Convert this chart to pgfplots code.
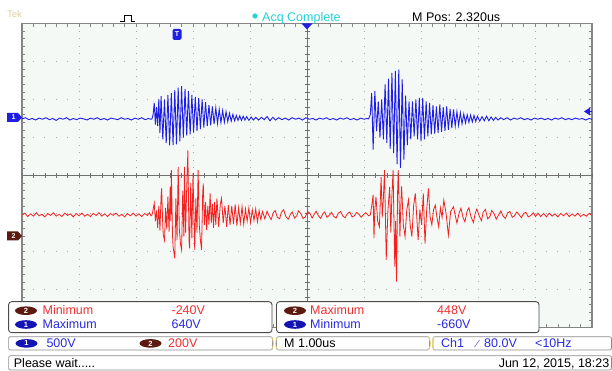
\documentclass[border=0pt]{standalone}
\usepackage{pgfplots}
\pgfplotsset{compat=1.18}
\usepackage{fontspec}
\setmainfont{Liberation Sans}
\definecolor{scrbg}{HTML}{F4F9F6}
\definecolor{gridc}{HTML}{A8A8A8}
\definecolor{borderc}{HTML}{858585}
\definecolor{centc}{HTML}{707070}
\definecolor{ch1}{HTML}{1E1EE6}
\definecolor{ch2}{HTML}{F52020}
\definecolor{ch1txt}{HTML}{2A2AE0}
\definecolor{ch2txt}{HTML}{F03030}
\definecolor{maroonb}{HTML}{5C1A10}
\definecolor{badgeblue}{HTML}{1414B4}
\definecolor{acq}{HTML}{22D3D8}
\definecolor{tek}{HTML}{D8D0A0}
\definecolor{brk}{HTML}{E8D070}

\begin{document}
\begin{tikzpicture}[x=1pt,y=1pt,font=\fontsize{12.5}{14}\selectfont]
\fill[white] (0,0) rectangle (612,371);
\begin{axis}[at={(22pt,43.5pt)}, anchor=south west, scale only axis,
  width=570pt, height=304pt, xmin=-5, xmax=5, ymin=-4, ymax=4,
  axis background/.style={fill=scrbg},
  axis line style={borderc, line width=1.1pt},
  xtick={-5,...,5}, ytick={-4,...,4}, minor x tick num=4, minor y tick num=4,
  xticklabels={}, yticklabels={}, tick align=inside,
  major tick length=3pt, minor tick length=3pt,
  tick style={borderc, line width=0.6pt},
  grid=major,
  major x grid style={gridc, line width=1pt, dash pattern=on 1pt off 6.6pt, dash phase=0.5pt},
  major y grid style={gridc, line width=1pt, dash pattern=on 1pt off 10.4pt, dash phase=0.5pt}]
\end{axis}
\begin{axis}[at={(22pt,43.5pt)}, anchor=south west, scale only axis,
  width=570pt, height=304pt, xmin=-5, xmax=5, ymin=-4, ymax=4,
  axis lines=middle,
  axis line style={-, centc, line width=0.9pt},
  every inner x axis line/.append style={-},
  every inner y axis line/.append style={-},
  xtick={-5,...,5}, ytick={-4,...,4}, minor x tick num=4, minor y tick num=4,
  xticklabels={}, yticklabels={}, tick align=center,
  major tick length=5pt, minor tick length=5pt,
  tick style={centc, line width=0.6pt}, clip=true]
% Channel 2 (red)
\addplot[ch2, line width=0.8pt] coordinates {
(-5.00,-1.04)(-4.95,-0.99)(-4.90,-1.08)(-4.85,-1.01)(-4.80,-1.07)(-4.75,-0.98)(-4.70,-1.06)(-4.65,-1.02)(-4.60,-1.09)(-4.55,-1.00)
(-4.50,-1.05)(-4.45,-0.98)(-4.40,-1.07)(-4.35,-1.02)(-4.30,-1.08)(-4.25,-0.99)(-4.20,-1.05)(-4.15,-1.01)(-4.10,-1.09)(-4.05,-1.00)
(-4.00,-1.06)(-3.95,-0.99)(-3.90,-1.07)(-3.85,-1.02)(-3.80,-1.08)(-3.75,-1.00)(-3.70,-1.05)(-3.65,-0.98)(-3.60,-1.07)(-3.55,-1.01)
(-3.50,-1.08)(-3.45,-1.00)(-3.40,-1.05)(-3.35,-0.99)(-3.30,-1.07)(-3.25,-1.02)(-3.20,-1.09)(-3.15,-1.00)(-3.10,-1.06)(-3.05,-0.99)
(-3.00,-1.07)(-2.95,-1.01)(-2.90,-1.08)(-2.85,-1.00)(-2.80,-1.05)(-2.76,-0.98)(-2.74,-1.06)
(-2.72,-1.04)(-2.70,-0.90)(-2.68,-0.73)(-2.66,-1.20)(-2.64,-0.92)(-2.62,-1.38)(-2.60,-0.80)(-2.58,-1.45)(-2.56,-0.55)(-2.55,-0.34)
(-2.53,-1.35)(-2.52,-1.57)(-2.50,-1.70)(-2.48,-0.85)(-2.46,-1.42)(-2.44,-0.55)(-2.42,-1.48)(-2.40,-0.29)(-2.39,-1.20)(-2.38,0.14)
(-2.36,-1.55)(-2.35,-1.87)(-2.32,-2.18)(-2.30,-0.60)(-2.28,-1.70)(-2.26,0.23)(-2.24,-1.40)(-2.22,-1.80)(-2.20,-1.96)(-2.18,-0.40)
(-2.16,-1.60)(-2.15,0.23)(-2.13,-1.50)(-2.11,-0.30)(-2.09,0.66)(-2.07,-1.70)(-2.06,-1.92)(-2.04,-0.20)(-2.02,-1.65)(-2.00,0.06)
(-1.98,-1.30)(-1.97,-1.96)(-1.95,-0.60)(-1.93,-1.50)(-1.91,0.14)(-1.89,-1.30)(-1.87,-1.70)(-1.85,-1.96)(-1.83,-0.45)(-1.82,-0.21)
(-1.80,-1.30)(-1.78,-0.70)(-1.76,-1.44)(-1.74,-0.80)(-1.72,-1.30)(-1.70,-0.47)(-1.68,-1.25)(-1.66,-0.75)(-1.64,-1.38)(-1.62,-0.70)
(-1.60,-1.30)(-1.58,-0.60)(-1.55,-1.35)(-1.52,-0.75)(-1.50,-0.60)(-1.47,-1.25)(-1.44,-0.80)(-1.41,-1.35)(-1.38,-0.78)(-1.35,-1.30)
(-1.32,-0.80)(-1.29,-1.28)(-1.26,-0.76)(-1.23,-1.32)(-1.20,-0.85)(-1.17,-1.25)(-1.14,-0.82)(-1.11,-1.28)(-1.08,-0.88)(-1.05,-1.20)
(-1.02,-0.85)(-0.99,-1.24)(-0.96,-0.90)(-0.93,-1.18)(-0.90,-0.88)(-0.87,-1.22)(-0.84,-0.92)(-0.81,-1.16)(-0.78,-0.95)(-0.74,-1.14)
(-0.70,-0.94)(-0.67,-1.05)(-0.63,-1.16)(-0.59,-0.98)(-0.56,-0.92)(-0.52,-1.10)(-0.48,-1.14)(-0.45,-0.97)(-0.41,-0.90)(-0.37,-1.08)
(-0.33,-1.15)(-0.29,-1.02)(-0.26,-0.96)(-0.22,-1.12)(-0.18,-1.06)(-0.15,-0.93)(-0.11,-1.00)(-0.07,-1.13)(-0.03,-1.09)(0.01,-0.95)
(0.05,-0.99)(0.09,-1.12)(0.12,-1.04)(0.16,-0.94)(0.20,-1.06)(0.24,-1.13)(0.28,-1.00)(0.31,-0.96)(0.35,-1.10)(0.39,-1.05)
(0.43,-0.97)(0.47,-1.08)(0.51,-1.12)(0.55,-0.99)(0.59,-0.95)(0.63,-1.07)(0.67,-1.11)(0.71,-1.00)(0.75,-0.96)(0.79,-1.09)
(0.83,-1.06)(0.87,-0.97)(0.91,-1.02)(0.95,-1.10)(0.99,-1.03)(1.03,-0.98)(1.08,-1.06)
(1.11,-1.04)(1.135,-0.80)(1.16,-0.51)(1.175,-1.65)(1.19,-0.90)(1.21,-0.56)(1.24,-1.20)(1.27,-1.35)(1.30,-0.04)(1.32,-1.10)
(1.34,-0.60)(1.36,0.14)(1.39,-2.22)(1.42,-0.90)(1.45,-0.30)(1.47,-1.50)(1.49,-0.50)(1.51,0.14)(1.53,-1.60)(1.54,-2.40)
(1.555,-1.20)(1.57,-2.79)(1.59,-0.40)(1.60,0.14)(1.62,-0.90)(1.63,-1.61)(1.65,-0.60)(1.66,-0.29)(1.69,-1.30)(1.72,-1.61)
(1.75,-0.90)(1.78,-0.64)(1.81,-1.30)(1.84,-1.61)(1.87,-0.80)(1.90,-0.47)(1.93,-1.20)(1.95,-1.70)(1.98,-0.90)(2.01,-1.30)
(2.04,-0.47)(2.07,-1.79)(2.10,-0.90)(2.13,-0.34)(2.16,-1.10)(2.19,-1.30)(2.22,-0.90)(2.25,-0.78)(2.28,-1.10)(2.31,-1.35)
(2.34,-0.85)(2.37,-1.10)(2.40,-0.65)(2.44,-1.00)(2.48,-1.57)(2.52,-0.95)(2.57,-0.82)(2.60,-1.05)(2.63,-1.25)(2.67,-0.98)
(2.70,-0.86)(2.74,-1.12)(2.77,-1.22)(2.81,-0.93)(2.84,-0.85)(2.88,-1.10)(2.92,-1.24)(2.95,-1.00)(2.98,-0.88)(3.02,-1.06)
(3.06,-1.19)(3.09,-0.97)(3.13,-0.89)(3.17,-1.14)(3.21,-1.08)(3.24,-0.92)(3.28,-1.00)(3.32,-1.15)(3.36,-1.04)(3.40,-0.93)
(3.44,-1.07)(3.48,-1.13)(3.52,-0.98)(3.56,-0.95)(3.60,-1.10)(3.64,-1.06)(3.68,-0.96)(3.72,-1.03)(3.76,-1.11)(3.80,-1.00)
(3.84,-0.97)(3.88,-1.09)(3.93,-1.05)(3.97,-0.98)(4.01,-1.08)(4.05,-0.99)(4.10,-1.08)(4.15,-1.00)(4.20,-1.09)(4.25,-0.99)
(4.30,-1.07)(4.35,-1.01)(4.40,-1.09)(4.45,-1.00)(4.50,-1.06)(4.55,-0.99)(4.60,-1.08)(4.65,-1.01)(4.70,-1.07)(4.75,-0.99)
(4.80,-1.08)(4.85,-1.02)(4.90,-1.07)(4.95,-1.00)(5.00,-1.05)
};
% Channel 1 (blue)
\addplot[ch1, line width=0.9pt] coordinates {
(-5.00,1.49)(-4.94,1.52)(-4.88,1.47)(-4.82,1.50)(-4.76,1.46)(-4.70,1.51)(-4.64,1.48)(-4.58,1.52)(-4.52,1.47)(-4.46,1.50)
(-4.40,1.45)(-4.34,1.51)(-4.28,1.48)(-4.22,1.52)(-4.16,1.46)(-4.10,1.50)(-4.04,1.47)(-3.98,1.51)(-3.92,1.49)(-3.86,1.46)
(-3.80,1.51)(-3.74,1.48)(-3.68,1.52)(-3.62,1.47)(-3.56,1.50)(-3.50,1.46)(-3.44,1.51)(-3.38,1.49)(-3.32,1.47)(-3.26,1.52)
(-3.20,1.48)(-3.14,1.50)(-3.08,1.46)(-3.02,1.51)(-2.96,1.48)(-2.90,1.52)(-2.84,1.47)(-2.78,1.50)(-2.74,1.48)
(-2.72,1.49)(-2.70,1.60)(-2.68,1.91)(-2.66,1.34)(-2.64,1.80)(-2.62,1.30)(-2.60,2.00)(-2.58,1.12)(-2.56,2.09)(-2.53,0.95)
(-2.50,2.00)(-2.47,0.85)(-2.44,2.12)(-2.41,0.79)(-2.38,2.17)(-2.35,0.80)(-2.32,2.25)(-2.29,0.82)(-2.26,2.31)(-2.23,0.90)
(-2.20,2.35)(-2.17,1.00)(-2.14,2.28)(-2.11,1.05)(-2.08,2.22)(-2.05,1.08)(-2.02,2.12)(-1.99,1.13)(-1.96,2.07)(-1.93,1.17)
(-1.90,2.04)(-1.87,1.22)(-1.84,2.00)(-1.81,1.26)(-1.78,1.93)(-1.75,1.30)(-1.72,1.86)(-1.69,1.32)(-1.66,1.82)(-1.63,1.35)
(-1.60,1.78)(-1.57,1.37)(-1.54,1.74)(-1.51,1.39)(-1.48,1.71)(-1.45,1.40)(-1.42,1.68)(-1.39,1.42)(-1.36,1.64)(-1.33,1.43)
(-1.30,1.61)(-1.27,1.44)(-1.24,1.58)(-1.21,1.45)(-1.18,1.57)(-1.15,1.45)(-1.12,1.56)(-1.09,1.46)(-1.06,1.55)(-1.02,1.45)
(-0.98,1.54)(-0.94,1.46)(-0.90,1.53)(-0.85,1.46)(-0.80,1.53)(-0.75,1.47)
(-0.70,1.55)(-0.65,1.44)(-0.60,1.53)(-0.55,1.46)(-0.50,1.52)(-0.44,1.47)(-0.38,1.51)(-0.32,1.46)(-0.26,1.52)(-0.20,1.48)
(-0.14,1.51)(-0.08,1.46)(-0.02,1.52)(0.04,1.48)(0.10,1.50)(0.16,1.46)(0.22,1.51)(0.28,1.48)(0.34,1.52)(0.40,1.47)
(0.46,1.50)(0.52,1.46)(0.58,1.51)(0.64,1.48)(0.70,1.52)(0.76,1.47)(0.82,1.50)(0.88,1.46)(0.94,1.51)(1.00,1.48)(1.05,1.50)
(1.08,1.49)(1.11,1.60)(1.135,2.17)(1.16,0.68)(1.19,2.22)(1.22,1.17)(1.25,1.95)(1.28,1.00)(1.31,2.00)(1.34,0.95)
(1.37,2.40)(1.40,0.86)(1.43,2.55)(1.46,0.70)(1.49,2.70)(1.52,0.59)(1.55,2.75)(1.58,0.30)(1.61,2.79)(1.64,0.20)
(1.67,2.53)(1.70,0.42)(1.73,2.10)(1.76,0.80)(1.79,1.95)(1.82,0.95)(1.85,1.95)(1.88,1.03)(1.91,2.00)(1.94,0.95)
(1.97,2.04)(2.00,0.90)(2.03,2.04)(2.06,0.95)(2.09,1.95)(2.12,1.03)(2.15,1.91)(2.18,1.08)(2.21,1.85)(2.24,1.10)
(2.27,1.82)(2.30,1.12)(2.33,1.87)(2.36,1.15)(2.39,1.80)(2.42,1.17)(2.45,1.82)(2.48,1.20)(2.51,1.75)(2.54,1.25)
(2.57,1.74)(2.60,1.30)(2.63,1.68)(2.66,1.32)(2.69,1.65)(2.72,1.36)(2.75,1.62)(2.78,1.38)(2.81,1.60)(2.84,1.40)
(2.87,1.59)(2.90,1.41)(2.93,1.58)(2.96,1.42)(2.99,1.56)(3.03,1.43)(3.07,1.55)(3.11,1.44)(3.15,1.56)(3.19,1.44)
(3.23,1.54)(3.27,1.45)(3.31,1.53)(3.35,1.46)(3.40,1.52)
(3.45,1.47)(3.51,1.52)(3.57,1.46)(3.63,1.51)(3.69,1.48)(3.75,1.52)(3.81,1.47)(3.87,1.50)(3.93,1.46)(3.99,1.51)
(4.05,1.48)(4.11,1.51)(4.17,1.47)(4.23,1.50)(4.29,1.46)(4.35,1.51)(4.41,1.48)(4.47,1.52)(4.53,1.47)(4.59,1.50)
(4.65,1.47)(4.71,1.51)(4.77,1.48)(4.83,1.50)(4.89,1.46)(4.95,1.50)(5.00,1.48)
};
\end{axis}
% ---- top status line
\node[anchor=base west, inner sep=0, text=tek, font=\fontsize{9.5}{10}\selectfont] at (7,353) {Tek};
\draw[black, line width=0.6pt] (120,349.5)--(124,349.5)--(124,356)--(131,356)--(131,349.5)--(135,349.5);
\fill[acq] (255,355) circle (2.6);
\node[anchor=base west, inner sep=0, text=acq] at (262,349) {Acq Complete};
\node[anchor=base west, inner sep=0] at (412,349) {M Pos: 2.320us};
% ---- markers
\fill[ch1, rounded corners=1.5pt] (172.5,331) rectangle (181.5,342);
\node[white, inner sep=0, font=\bfseries\fontsize{7}{7}\selectfont] at (177,336.5) {T};
\fill[ch1] (301.5,347.5) -- (312.5,347.5) -- (307,341.5) -- cycle;
\fill[ch1] (7,249)--(18,249)--(22,253.5)--(18,258)--(7,258)--cycle;
\node[white, inner sep=0, font=\bfseries\fontsize{7}{7}\selectfont] at (13.5,253.5) {1};
\fill[maroonb] (7,130.5)--(18,130.5)--(22,135)--(18,139.5)--(7,139.5)--cycle;
\node[white, inner sep=0, font=\bfseries\fontsize{7}{7}\selectfont] at (13.5,135) {2};
\fill[ch1] (584,259.5)--(590,263.5)--(590,255.5)--cycle;
\draw[ch1, line width=1.2pt] (588,259.5)--(592,259.5);
% ---- measurement boxes
\draw[black!70, line width=0.9pt, fill=white, rounded corners=3pt] (8.6,38.3) rectangle (272,69.3);
\draw[black!70, line width=0.9pt, fill=white, rounded corners=3pt] (276.5,38.3) rectangle (539,69.3);
\fill[maroonb] (26,60.3) ellipse (11 and 4.3);
\node[white, inner sep=0, font=\bfseries\fontsize{7.5}{8}\selectfont] at (26,60.3) {2};
\fill[badgeblue] (26,46.5) ellipse (11 and 4.3);
\node[white, inner sep=0, font=\bfseries\fontsize{7.5}{8}\selectfont] at (26,46.5) {1};
\node[anchor=base west, inner sep=0, text=ch2txt] at (42.4,56) {Minimum};
\node[anchor=base west, inner sep=0, text=ch2txt] at (171.4,56) {-240V};
\node[anchor=base west, inner sep=0, text=ch1txt] at (42.4,42.2) {Maximum};
\node[anchor=base west, inner sep=0, text=ch1txt] at (171.4,42.2) {640V};
\fill[maroonb] (295,60.3) ellipse (11 and 4.3);
\node[white, inner sep=0, font=\bfseries\fontsize{7.5}{8}\selectfont] at (295,60.3) {2};
\fill[badgeblue] (295,46.5) ellipse (11 and 4.3);
\node[white, inner sep=0, font=\bfseries\fontsize{7.5}{8}\selectfont] at (295,46.5) {1};
\node[anchor=base west, inner sep=0, text=ch2txt] at (310,56) {Maximum};
\node[anchor=base west, inner sep=0, text=ch2txt] at (437,56) {448V};
\node[anchor=base west, inner sep=0, text=ch1txt] at (310,42.2) {Minimum};
\node[anchor=base west, inner sep=0, text=ch1txt] at (437,42.2) {-660V};
% ---- channel / timebase row
\draw[black!45, line width=0.7pt, fill=white, rounded corners=2pt] (8.6,21) rectangle (272.5,34.3);
\draw[black!45, line width=0.7pt, fill=white, rounded corners=2pt] (276.5,21) rectangle (429.4,34.3);
\draw[black!45, line width=0.7pt, fill=white, rounded corners=2pt] (433,21) rectangle (611.5,34.3);
\draw[brk, line width=0.8pt] (271.5,34) .. controls (274,30) and (274,25) .. (271.5,21.3);
\draw[brk, line width=0.8pt] (277.5,34) .. controls (275,30) and (275,25) .. (277.5,21.3);
\draw[brk, line width=0.8pt] (428.5,34) .. controls (431,30) and (431,25) .. (428.5,21.3);
\draw[brk, line width=0.8pt] (434,34) .. controls (431.5,30) and (431.5,25) .. (434,21.3);
\fill[badgeblue] (26.5,27.6) ellipse (11 and 4.3);
\node[white, inner sep=0, font=\bfseries\fontsize{7.5}{8}\selectfont] at (26.5,27.6) {1};
\node[anchor=base west, inner sep=0, text=ch1txt] at (46.3,23) {500V};
\fill[maroonb] (150.5,27.6) ellipse (11 and 4.3);
\node[white, inner sep=0, font=\bfseries\fontsize{7.5}{8}\selectfont] at (150.5,27.6) {2};
\node[anchor=base west, inner sep=0, text=ch2txt] at (168,23) {200V};
\node[anchor=base west, inner sep=0] at (284,23) {M 1.00us};
\node[anchor=base west, inner sep=0, text=ch1txt] at (441,23) {Ch1};
\draw[ch1txt!60, line width=0.7pt] (474.5,24) -- (479.5,31);
\node[anchor=base west, inner sep=0, text=ch1txt] at (484,23) {80.0V};
\node[anchor=base west, inner sep=0, text=ch1txt] at (535,23) {<10Hz};
% ---- status bar
\draw[black!45, line width=0.7pt, fill=white, rounded corners=2pt] (8.6,1) rectangle (611.5,15.3);
\node[anchor=base west, inner sep=0] at (13.7,3.6) {Please wait.....};
\node[anchor=base east, inner sep=0] at (609.5,3.6) {Jun 12, 2015, 18:23};
\end{tikzpicture}
\end{document}
